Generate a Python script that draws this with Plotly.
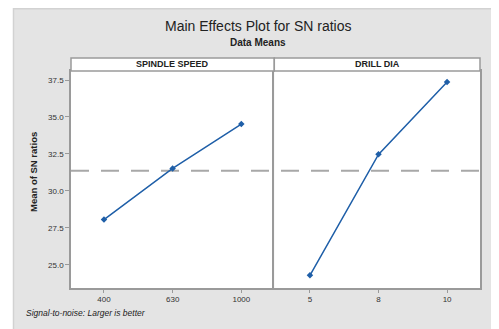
import plotly.graph_objects as go

# ---- data ----
spindle_levels = ["400", "630", "1000"]
spindle_sn = [28.06, 31.52, 34.52]
drill_levels = ["5", "8", "10"]
drill_sn = [24.29, 32.47, 37.36]
overall_mean = 31.37
y_ticks = [25.0, 27.5, 30.0, 32.5, 35.0, 37.5]
panel_titles = ["SPINDLE SPEED", "DRILL DIA"]

OFF = 8  # page body margin
W, H = 499 - OFF, 329 - OFF
ML, MR, MT, MB = 71 - OFF, 19, 58 - OFF, 41
PW, PH = W - ML - MR, H - MT - MB
STRIP = 13

def px_x(px):
    return (px - OFF - ML) / PW

def px_y(py):
    return (H - MB - (py - OFF)) / PH

split = px_x(274.3)
ytop = 1 - STRIP / PH

BLUE = "#1f5fa8"
GRID = "#9a9a9a"
FONT = "Liberation Sans"

fig = go.Figure()
fig.add_trace(go.Scatter(x=list(range(len(spindle_levels))), y=spindle_sn, mode="lines+markers",
                         line=dict(color=BLUE, width=1.5), marker=dict(color=BLUE, size=5, symbol="diamond"),
                         xaxis="x", yaxis="y", showlegend=False))
fig.add_trace(go.Scatter(x=list(range(len(drill_levels))), y=drill_sn, mode="lines+markers",
                         line=dict(color=BLUE, width=1.5), marker=dict(color=BLUE, size=5, symbol="diamond"),
                         xaxis="x2", yaxis="y2", showlegend=False))

axis_common = dict(showgrid=False, zeroline=False, showline=True, linecolor=GRID, linewidth=1.5,
                   tickfont=dict(family=FONT, size=8, color="#333"))
fig.update_layout(
    width=W, height=H,
    margin=dict(l=ML, r=MR, t=MT, b=MB),
    paper_bgcolor="#e4e4e4", plot_bgcolor="white",
    font=dict(family=FONT),
    xaxis=dict(domain=[0, split], range=[-0.48, 2.48], tickvals=[0, 1, 2], ticktext=spindle_levels,
               ticks="outside", ticklen=3, tickcolor=GRID, mirror=True, **axis_common),
    xaxis2=dict(domain=[split, 1], range=[-0.52, 2.48], tickvals=[0, 1, 2], ticktext=drill_levels,
                ticks="outside", ticklen=3, tickcolor=GRID, anchor="y2", mirror=True, **axis_common),
    yaxis=dict(domain=[0, ytop], range=[23.43, 38.11], tickvals=y_ticks,
               ticktext=[f"{v:.1f}" for v in y_ticks], ticks="outside", ticklen=4, tickcolor=GRID,
               mirror=False, **axis_common),
    yaxis2=dict(domain=[0, ytop], range=[23.43, 38.11], matches="y", showticklabels=False, ticks="",
                anchor="x2", mirror=True, **axis_common),
)

shapes = []
# white outside band on the left
shapes.append(dict(type="rect", xref="paper", yref="paper", x0=px_x(OFF), x1=px_x(13), y0=px_y(H + OFF), y1=px_y(OFF),
                   fillcolor="white", line=dict(width=0), layer="below"))
# subtle frame edge
shapes.append(dict(type="line", xref="paper", yref="paper", x0=px_x(13.5), x1=px_x(13.5), y0=px_y(H + OFF), y1=px_y(OFF),
                   line=dict(color="#d2d2d2", width=1.5), layer="below"))
shapes.append(dict(type="line", xref="paper", yref="paper", x0=px_x(13), x1=px_x(W + OFF), y0=px_y(OFF + 0.7), y1=px_y(OFF + 0.7),
                   line=dict(color="#d2d2d2", width=1.5), layer="below"))
# strip boxes
for x0, x1 in [(0, split), (split, 1)]:
    shapes.append(dict(type="rect", xref="paper", yref="paper", x0=x0, x1=x1, y0=ytop, y1=1,
                       fillcolor="white", line=dict(color=GRID, width=1.5)))
# reference mean line
shapes.append(dict(type="line", xref="paper", yref="y", x0=0, x1=1, y0=overall_mean, y1=overall_mean,
                   line=dict(color="#a8a8a8", width=2, dash="18px,12px"), layer="below"))
fig.update_layout(shapes=shapes)

ann = []
ann.append(dict(text="Main Effects Plot for SN ratios", x=px_x(258), y=px_y(26), xref="paper", yref="paper",
                showarrow=False, font=dict(size=14, color="#222"), xanchor="center", yanchor="middle"))
ann.append(dict(text="<b>Data Means</b>", x=px_x(258), y=px_y(43), xref="paper", yref="paper",
                showarrow=False, font=dict(size=10, color="#222"), xanchor="center", yanchor="middle"))
for t, cx in zip(panel_titles, [split / 2, (split + 1) / 2]):
    ann.append(dict(text=f"<b>{t}</b>", x=cx, y=(ytop + 1) / 2, xref="paper", yref="paper",
                    showarrow=False, font=dict(size=9, color="#222"), xanchor="center", yanchor="middle"))
ann.append(dict(text="<b>Mean of SN ratios</b>", x=px_x(33), y=px_y(172), xref="paper", yref="paper",
                showarrow=False, textangle=-90, font=dict(size=9.5, color="#222"), xanchor="center", yanchor="middle"))
ann.append(dict(text="<i>Signal-to-noise: Larger is better</i>", x=px_x(24), y=px_y(313), xref="paper", yref="paper",
                showarrow=False, font=dict(size=8.5, color="#222"), xanchor="left", yanchor="middle"))
fig.update_layout(annotations=ann)

fig.write_html("out.html")
